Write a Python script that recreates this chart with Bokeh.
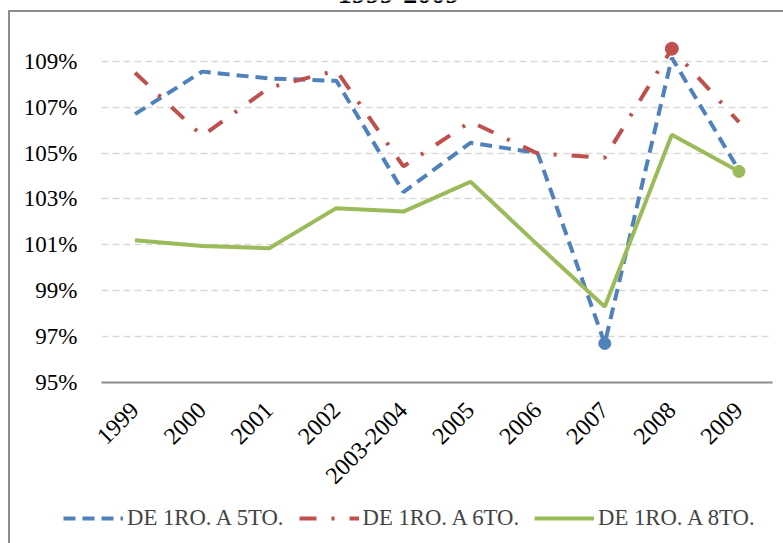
from bokeh.plotting import figure
from bokeh.layouts import column
from bokeh.models import FactorRange, Range1d, FixedTicker, Legend, LegendItem, Label
from bokeh.embed import file_html
from bokeh.resources import INLINE
from math import pi

categories = ["1999", "2000", "2001", "2002", "2003-2004", "2005", "2006", "2007", "2008", "2009"]
de_1ro_a_5to = [106.7, 108.55, 108.25, 108.15, 103.3, 105.45, 105.0, 96.7, 109.15, 104.25]
de_1ro_a_6to = [108.5, 105.75, 107.85, 108.6, 104.42, 106.37, 104.98, 104.8, 109.55, 106.35]
de_1ro_a_8to = [101.2, 100.95, 100.85, 102.6, 102.45, 103.75, 101.0, 98.3, 105.8, 104.2]
series_names = ["DE 1RO. A 5TO.", "DE 1RO. A 6TO.", "DE 1RO. A 8TO."]
y_ticks = [95, 97, 99, 101, 103, 105, 107, 109]
y_tick_labels = ["95%", "97%", "99%", "101%", "103%", "105%", "107%", "109%"]
title_text = "1999-2009"

BLUE = "#4F81BD"
RED = "#C0504D"
GREEN = "#9BBB59"
EDGE = "#8c8c8c"
FONT = "Liberation Serif, serif"

W = 783
MAIN_H = 497
LEG_H = 543 - MAIN_H

# ---------------- main chart ----------------
p = figure(width=W, height=MAIN_H, x_range=FactorRange(*categories),
           y_range=Range1d(95, 111.65), output_backend="svg", toolbar_location=None,
           min_border_left=101, min_border_right=11, min_border_top=0,
           min_border_bottom=MAIN_H - 382)
p.frame_align = False
p.styles = {
    "background": (f"linear-gradient({EDGE},{EDGE}) 8px 10px / 2px calc(100% - 10px) no-repeat, "
                   f"linear-gradient({EDGE},{EDGE}) 8px 10px / calc(100% - 8px) 2px no-repeat, #ffffff"),
}
p.outline_line_color = None
p.background_fill_color = None
p.border_fill_color = None

# title, cut at the top edge as in the reference
title = Label(x=297, y=389, x_units="screen", y_units="screen", text=title_text,
              text_align="center", text_baseline="alphabetic", text_font=FONT,
              text_font_size="28px", text_font_style="bold", text_color="black")
p.add_layout(title)

p.yaxis.ticker = FixedTicker(ticks=y_ticks)
p.yaxis.major_label_overrides = {t: l for t, l in zip(y_ticks, y_tick_labels)}
p.yaxis.axis_line_color = None
p.yaxis.major_tick_line_color = None
p.yaxis.minor_tick_line_color = None
p.yaxis.major_label_standoff = 18
p.yaxis.major_label_text_font = FONT
p.yaxis.major_label_text_font_size = "23px"
p.yaxis.major_label_text_color = "black"

p.xaxis.axis_line_color = EDGE
p.xaxis.axis_line_width = 2
p.xaxis.major_tick_line_color = None
p.xaxis.minor_tick_line_color = None
p.xaxis.major_label_orientation = pi / 4
p.xaxis.major_label_standoff = 18
p.xaxis.major_label_text_font = FONT
p.xaxis.major_label_text_font_size = "24px"
p.xaxis.major_label_text_color = "black"

p.xgrid.grid_line_color = None
p.ygrid.ticker = FixedTicker(ticks=y_ticks)
p.ygrid.grid_line_color = "#D9D9D9"
p.ygrid.grid_line_width = 1.5
p.ygrid.grid_line_dash = "7 4"

styles = [dict(line_color=BLUE, line_width=4, line_dash="12 7"),
          dict(line_color=RED, line_width=4, line_dash="17 15 3 15"),
          dict(line_color=GREEN, line_width=4)]
series = [de_1ro_a_5to, de_1ro_a_6to, de_1ro_a_8to]

for vals, st in zip(series, styles):
    p.line(categories, vals, **st)

i_min = de_1ro_a_5to.index(min(de_1ro_a_5to))
i_max = de_1ro_a_6to.index(max(de_1ro_a_6to))
p.scatter([categories[i_min]], [de_1ro_a_5to[i_min]], size=12, color=BLUE)
p.scatter([categories[i_max]], [de_1ro_a_6to[i_max]], size=13, color=RED)
p.scatter([categories[-1]], [de_1ro_a_8to[-1]], size=12, color=GREEN)

# ---------------- legend strip ----------------
lg = figure(width=W, height=LEG_H, x_range=FactorRange(*categories), y_range=Range1d(0, 1),
            output_backend="svg", toolbar_location=None,
            x_axis_location=None, y_axis_location=None,
            min_border_left=0, min_border_right=0, min_border_top=0, min_border_bottom=0)
lg.frame_align = False
lg.styles = {
    "background": f"linear-gradient({EDGE},{EDGE}) 8px 0px / 2px 100% no-repeat, #ffffff",
}
lg.outline_line_color = None
lg.background_fill_color = None
lg.border_fill_color = None
lg.grid.grid_line_color = None

items = []
for name, vals, st in zip(series_names, series, styles):
    r = lg.line(categories, vals, **st)  # values lie outside the strip's range; only the legend shows
    items.append(LegendItem(label=name, renderers=[r]))

legend = Legend(items=items, orientation="horizontal", location=(63, 12),
                label_text_font=FONT, label_text_font_size="22.7px",
                glyph_width=60, glyph_height=20, label_standoff=4, spacing=15,
                padding=0, margin=0, border_line_color=None, background_fill_alpha=0)
lg.add_layout(legend)

layout = column(p, lg, spacing=0)
open("out.html", "w").write(file_html(layout, INLINE))
